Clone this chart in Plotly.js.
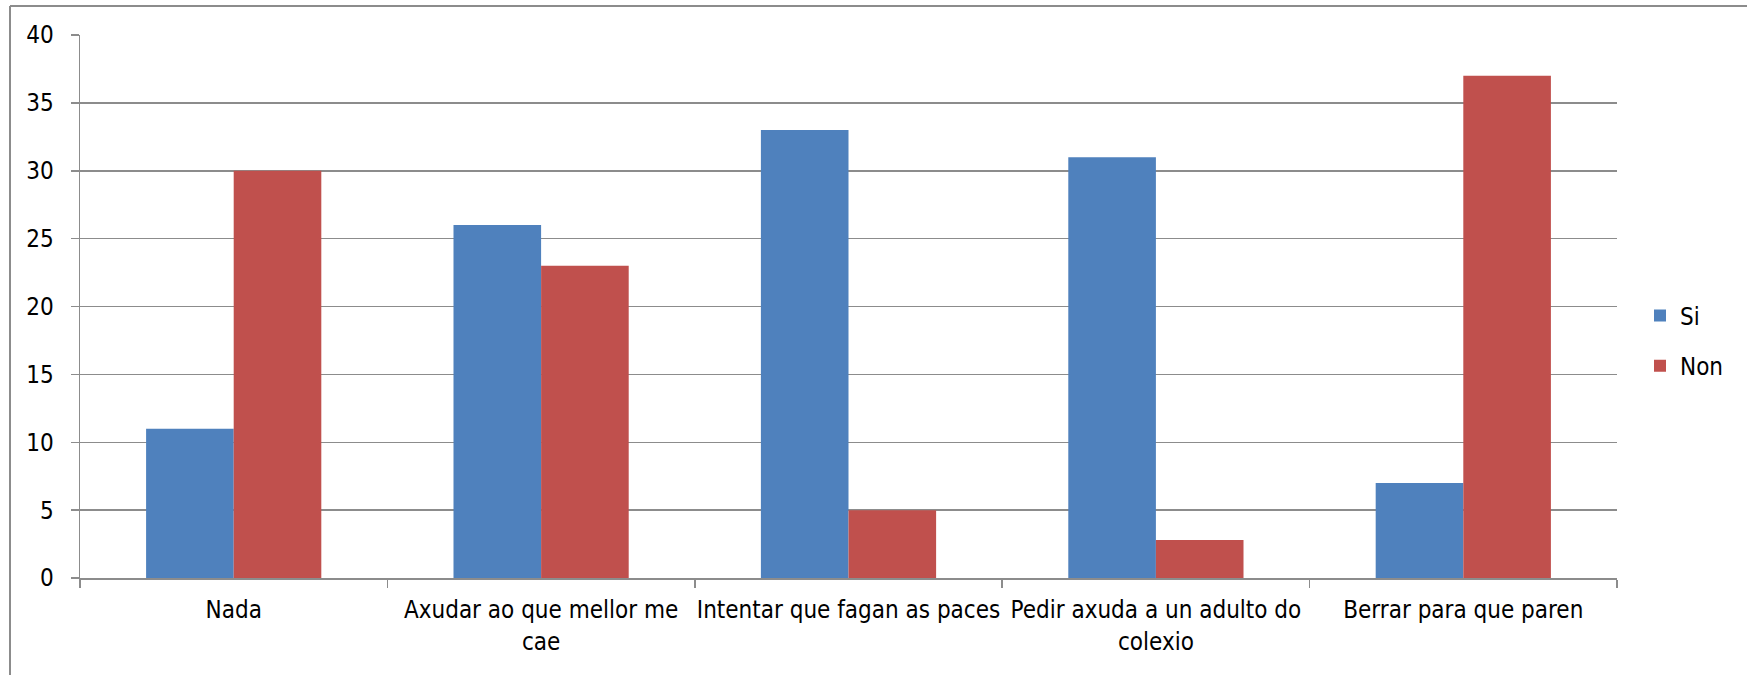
<!DOCTYPE html>
<html>
<head>
<meta charset="utf-8">
<script src="https://cdn.plot.ly/plotly-3.0.1.min.js"></script>
<style>
html,body{margin:0;padding:0;background:#fff;}
#chart{width:1747px;height:675px;}
</style>
</head>
<body>
<div id="chart"></div>
<script>
const categories = [
  "Nada",
  "Axudar ao que mellor me<br>cae",
  "Intentar que fagan as paces",
  "Pedir axuda a un adulto do<br>colexio",
  "Berrar para que paren"
];
const seriesNames = ["Si", "Non"];
const siValues = [11, 26, 33, 31, 7];
const nonValues = [30, 23, 5, 2.8, 37];
const yTickValues = [0, 5, 10, 15, 20, 25, 30, 35, 40];

const FONT = "'Liberation Sans Narrow', 'DejaVu Sans Condensed', 'Liberation Sans', sans-serif";
const gridGray = "#8c8c8c";
const FS = 24;

const W = 1747, H = 675;
const M = {l: 80, r: 130, t: 35, b: 97};
const pw = W - M.l - M.r, ph = H - M.t - M.b;
const px = x => (x - M.l) / pw;
const py = y => (H - M.b - y) / ph;

const traces = [
  {type: "bar", name: seriesNames[0], x: categories, y: siValues,
   marker: {color: "#4F81BD"}, legendgroup: "a", hoverinfo: "y"},
  {type: "bar", name: seriesNames[1], x: categories, y: nonValues,
   marker: {color: "#C0504D"}, legendgroup: "b", hoverinfo: "y"}
];

const layout = {
  width: W, height: H,
  margin: M,
  paper_bgcolor: "#fff", plot_bgcolor: "#fff",
  font: {family: FONT, size: FS, color: "#000"},
  barmode: "group",
  bargap: 0.43,
  bargroupgap: 0,
  showlegend: true,
  legend: {
    x: px(1640), y: py(341), xanchor: "left", yanchor: "middle",
    font: {family: FONT, size: FS, color: "#000"},
    tracegroupgap: 16, bgcolor: "rgba(0,0,0,0)"
  },
  xaxis: {
    type: "category",
    tickson: "boundaries",
    tickangle: 0,
    ticks: "outside", ticklen: 8, tickcolor: gridGray, tickwidth: 1.5,
    showline: true, linecolor: gridGray, linewidth: 1.5,
    showgrid: false, zeroline: false,
    tickfont: {family: FONT, size: FS, color: "#000"},
    ticklabelstandoff: 10,
    fixedrange: true
  },
  yaxis: {
    range: [0, 40],
    tickvals: yTickValues,
    ticktext: yTickValues.map(String),
    ticks: "outside", ticklen: 8, tickcolor: gridGray, tickwidth: 1.5,
    showline: true, linecolor: gridGray, linewidth: 1.5,
    showgrid: true, gridcolor: gridGray, gridwidth: 1.5,
    zeroline: false,
    tickfont: {family: FONT, size: FS, color: "#000"},
    ticklabelstandoff: 12,
    fixedrange: true
  },
  shapes: [
    {type: "line", xref: "paper", yref: "paper", x0: px(10), x1: px(10), y0: py(6), y1: py(H + 5),
     line: {color: "#8c8c8c", width: 2}},
    {type: "line", xref: "paper", yref: "paper", x0: px(10), x1: px(W + 5), y0: py(6), y1: py(6),
     line: {color: "#8c8c8c", width: 2}}
  ]
};

Plotly.newPlot("chart", traces, layout, {displayModeBar: false, staticPlot: true});
</script>
</body>
</html>
